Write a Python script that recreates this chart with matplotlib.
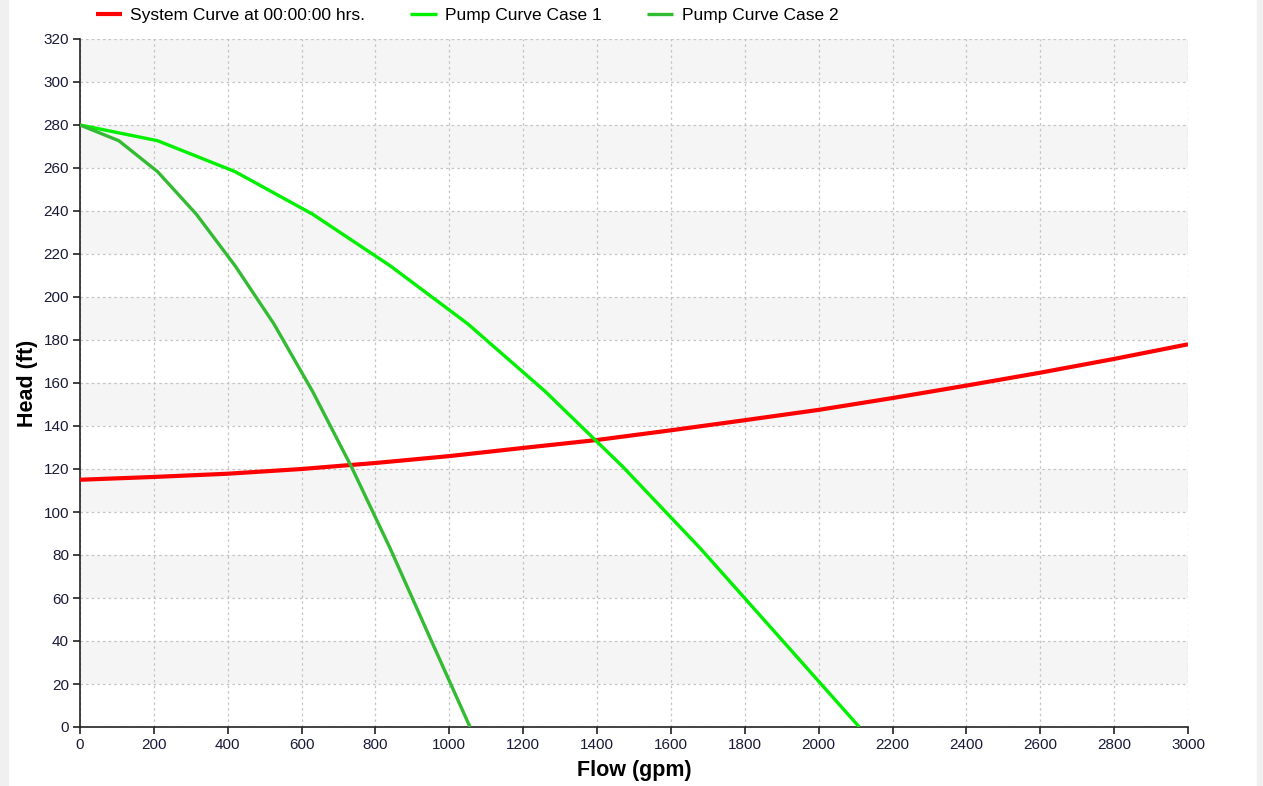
import matplotlib as mpl

mpl.use('Agg')

import matplotlib.pyplot as plt
from matplotlib.patches import Rectangle

FONT = ['Liberation Sans', 'DejaVu Sans']
mpl.rcParams['font.family'] = FONT

# system curve
sys_flow = [0, 200, 400, 600, 800, 1000, 1200, 1400, 1600, 1800, 2000, 2200, 2400, 2600, 2800, 3000]
sys_head = [115, 116.3, 117.8, 120, 122.8, 126, 129.8, 133.5, 138, 142.7, 147.5, 153, 158.8, 164.8, 171.2, 178]

# pump curves (piecewise linear in the source chart)
pump1_flow = [0, 210, 420, 630, 840, 1050, 1260, 1470, 1680, 1890, 2110]
pump1_head = [280, 272.7, 258.3, 238.5, 214.5, 187.5, 156, 121, 83, 42.5, 0]
pump2_flow = [0, 105, 210, 315, 420, 525, 630, 735, 840, 945, 1056]
pump2_head = [280, 272.7, 258.3, 238.5, 214.5, 187.5, 156, 121, 83, 42.5, 0]

labels = ['System Curve at 00:00:00 hrs.', 'Pump Curve Case 1', 'Pump Curve Case 2']
colors = ['#FF0000', '#00F000', '#33BB33']

x_ticks = list(range(0, 3001, 200))
y_ticks = list(range(0, 321, 20))

fig = plt.figure(figsize=(12.63, 7.86), dpi=100)
fig.patch.set_facecolor('white')
# thin gray strips at the left and right edges of the screenshot
fig.patches.append(Rectangle((0, 0), 8 / 1263, 1, transform=fig.transFigure, color='#F0F0F0', zorder=0))
fig.patches.append(Rectangle((1257 / 1263, 0), 6 / 1263, 1, transform=fig.transFigure, color='#F0F0F0', zorder=0))

ax = fig.add_axes([80 / 1263, 1 - 727 / 786, 1108 / 1263, 688 / 786])

# alternating bands
for i in range(len(y_ticks) - 1):
    if i % 2 == 1:
        ax.axhspan(y_ticks[i], y_ticks[i + 1], color='#F5F5F5', zorder=0, lw=0)

ax.plot(sys_flow, sys_head, color=colors[0], lw=3.0, label=labels[0], zorder=3, solid_capstyle='butt')
ax.plot(pump1_flow, pump1_head, color=colors[1], lw=2.4, label=labels[1], zorder=3, solid_capstyle='butt')
ax.plot(pump2_flow, pump2_head, color=colors[2], lw=2.4, label=labels[2], zorder=3, solid_capstyle='butt')

ax.set_xlim(0, 3000)
ax.set_ylim(0, 320)
ax.set_xticks(x_ticks)
ax.set_yticks(y_ticks)
ax.grid(True, color='#C4C4C4', linestyle=(0, (2, 2.5)), linewidth=0.9, zorder=1)
ax.set_axisbelow(True)

for s in ['top', 'right']:
    ax.spines[s].set_visible(False)
for s in ['left', 'bottom']:
    ax.spines[s].set_color('#222222')
    ax.spines[s].set_linewidth(1.2)

ax.tick_params(axis='both', direction='out', length=5, width=1.2, color='#222222',
               labelsize=11, labelcolor='#1a1a3a', pad=3)

ax.set_xlabel('Flow (gpm)', fontsize=15.5, fontweight='bold', labelpad=6)
ax.set_ylabel('Head (ft)', fontsize=15.5, fontweight='bold', labelpad=4)

fig.legend(loc='upper left', bbox_to_anchor=(80 / 1263, 1.01), ncol=3, frameon=False,
           fontsize=12.5, handlelength=1.5, handletextpad=0.5, columnspacing=2.6)

fig.savefig('out.png', dpi=100)
